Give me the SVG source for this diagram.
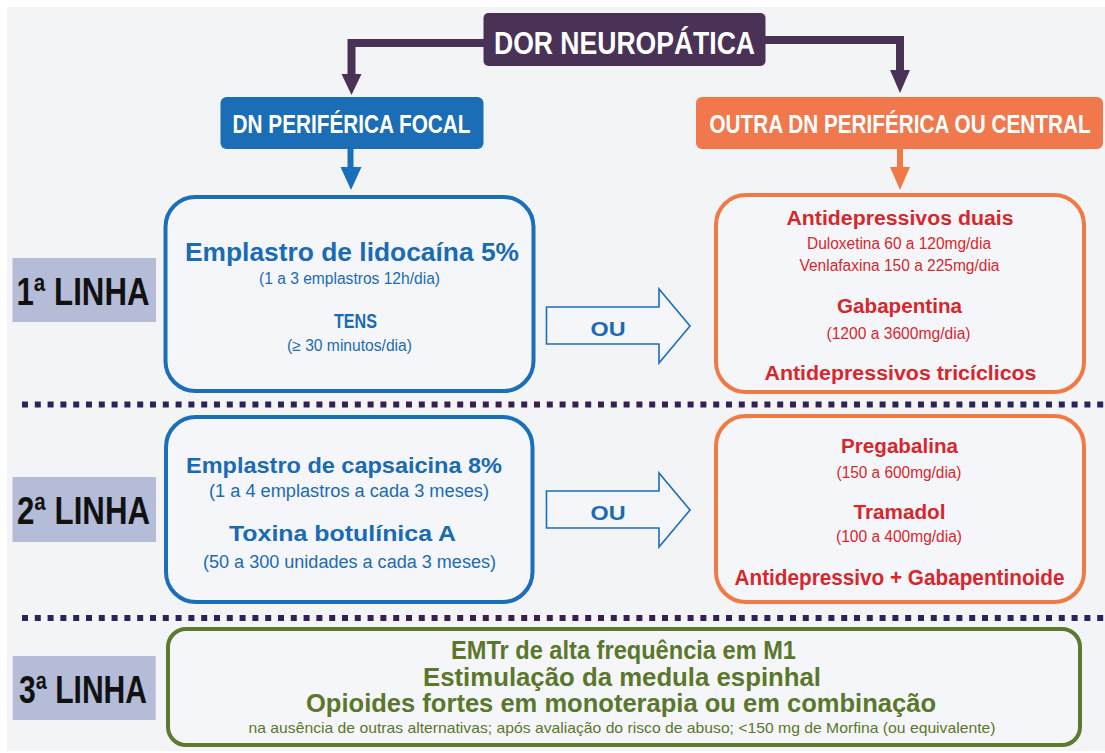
<svg xmlns="http://www.w3.org/2000/svg" width="1105" height="753" viewBox="0 0 1105 753">
<style>
text{font-family:"Liberation Sans",Arial,sans-serif;text-anchor:middle}
.b{font-weight:bold}
.hdr{fill:#fff;font-weight:bold}
.blue{fill:#1a6bb5}
.red{fill:#d8262c}
.green{fill:#5b772b;font-weight:bold}
.lbl{fill:#111;font-weight:bold;font-size:38px}
.lblbox{fill:#b4bcd8}
.boxB{fill:#f5f6f9;stroke:#1a6fba;stroke-width:4}
.boxO{fill:#f5f6f9;stroke:#f07a45;stroke-width:4}
.boxG{fill:#f5f6f9;stroke:#5e7a2e;stroke-width:4}
.ou{fill:#f5f6f9;stroke:#1a6fba;stroke-width:1.6}
.dots{fill:none;stroke:url(#dg);stroke-width:6;stroke-dasharray:6 6.8}
</style>
<defs>
<linearGradient id="dg" x1="0" y1="0" x2="1105" y2="0" gradientUnits="userSpaceOnUse">
<stop offset="0" stop-color="#25265e"/>
<stop offset="0.45" stop-color="#3e1c4e"/>
<stop offset="1" stop-color="#25265e"/>
</linearGradient>
</defs>
<rect x="0" y="0" width="1105" height="753" fill="#ffffff"/>
<rect x="7" y="7" width="1098" height="744" fill="#f3f4f6"/>

<g id="connectors">
<polyline points="484,43 351.5,43 351.5,76" fill="none" stroke="#4a3257" stroke-width="8"/>
<polygon points="341.5,74 361.5,74 351.5,95" fill="#4a3257"/>
<polyline points="765,40 900,40 900,72" fill="none" stroke="#4a3257" stroke-width="8"/>
<polygon points="890,70 910,70 900,93" fill="#4a3257"/>
<line x1="350.5" y1="149" x2="350.5" y2="169" stroke="#1a6fba" stroke-width="6"/>
<polygon points="340.5,167 361.5,167 351,190" fill="#1a6fba"/>
<line x1="900" y1="149" x2="900" y2="169" stroke="#f07a45" stroke-width="6"/>
<polygon points="890,167 910,167 900,190" fill="#f07a45"/>
<polygon class="ou" points="546.5,307 659,307 659,289 690,326 659,363 659,344 546.5,344"/>
<polygon class="ou" points="546.5,491 659,491 659,473 690,510 659,547 659,528 546.5,528"/>
<text class="blue b" x="608" y="336" font-size="21" textLength="35" lengthAdjust="spacingAndGlyphs">OU</text>
<text class="blue b" x="608" y="520" font-size="21" textLength="35" lengthAdjust="spacingAndGlyphs">OU</text>
<line class="dots" x1="22" y1="404.5" x2="1105" y2="404.5"/>
<line class="dots" x1="22" y1="618" x2="1105" y2="618"/>
</g>

<g id="dor">
<rect x="483.5" y="13" width="282" height="53" rx="5" fill="#4a3257"/>
<text class="hdr" transform="translate(624.5,54) scale(0.83,1)" x="0" y="0" font-size="32">DOR NEUROPÁTICA</text>
</g>
<g id="focal">
<rect x="220.5" y="97" width="263" height="52" rx="6" fill="#1b6db5"/>
<text class="hdr" transform="translate(351.5,133) scale(0.83,1)" x="0" y="0" font-size="25">DN PERIFÉRICA FOCAL</text>
</g>
<g id="outra">
<rect x="696" y="97" width="407" height="52" rx="6" fill="#f0784c"/>
<text class="hdr" transform="translate(900,133) scale(0.83,1)" x="0" y="0" font-size="25">OUTRA DN PERIFÉRICA OU CENTRAL</text>
</g>

<g id="label1">
<rect class="lblbox" x="12.5" y="258" width="143.5" height="64"/>
<text class="lbl" x="83" y="305" textLength="133" lengthAdjust="spacingAndGlyphs">1ª LINHA</text>
</g>
<g id="label2">
<rect class="lblbox" x="12.5" y="477" width="143.5" height="65"/>
<text class="lbl" x="83.5" y="524" textLength="133" lengthAdjust="spacingAndGlyphs">2ª LINHA</text>
</g>
<g id="label3">
<rect class="lblbox" x="12.7" y="656" width="143" height="64"/>
<text class="lbl" x="83" y="703" textLength="128" lengthAdjust="spacingAndGlyphs">3ª LINHA</text>
</g>

<g id="linha1-focal">
<rect class="boxB" x="165.5" y="197" width="368" height="194" rx="30"/>
<text class="blue b" x="352" y="261" font-size="25" textLength="334" lengthAdjust="spacingAndGlyphs">Emplastro de lidocaína 5%</text>
<text class="blue" x="349.5" y="284" font-size="16" textLength="181" lengthAdjust="spacingAndGlyphs">(1 a 3 emplastros 12h/dia)</text>
<text class="blue b" x="355.5" y="328" font-size="21" textLength="43" lengthAdjust="spacingAndGlyphs">TENS</text>
<text class="blue" x="349.5" y="351" font-size="16" textLength="125" lengthAdjust="spacingAndGlyphs">(≥ 30 minutos/dia)</text>
</g>
<g id="linha1-outra">
<rect class="boxO" x="716" y="195" width="368" height="197" rx="30"/>
<text class="red b" x="900" y="225" font-size="20" textLength="227" lengthAdjust="spacingAndGlyphs">Antidepressivos duais</text>
<text class="red" x="899" y="249" font-size="16" textLength="184" lengthAdjust="spacingAndGlyphs">Duloxetina 60 a 120mg/dia</text>
<text class="red" x="899.5" y="271" font-size="16" textLength="200" lengthAdjust="spacingAndGlyphs">Venlafaxina 150 a 225mg/dia</text>
<text class="red b" x="899.5" y="313" font-size="21" textLength="125" lengthAdjust="spacingAndGlyphs">Gabapentina</text>
<text class="red" x="898.5" y="339" font-size="16" textLength="144" lengthAdjust="spacingAndGlyphs">(1200 a 3600mg/dia)</text>
<text class="red b" x="900.5" y="380" font-size="20" textLength="272" lengthAdjust="spacingAndGlyphs">Antidepressivos tricíclicos</text>
</g>

<g id="linha2-focal">
<rect class="boxB" x="166" y="417" width="366.5" height="185" rx="30"/>
<text class="blue b" x="344" y="473" font-size="22" textLength="316" lengthAdjust="spacingAndGlyphs">Emplastro de capsaicina 8%</text>
<text class="blue" x="349" y="497" font-size="18" textLength="280" lengthAdjust="spacingAndGlyphs">(1 a 4 emplastros a cada 3 meses)</text>
<text class="blue b" x="342.5" y="541" font-size="22" textLength="227" lengthAdjust="spacingAndGlyphs">Toxina botulínica A</text>
<text class="blue" x="349.5" y="568" font-size="18" textLength="293" lengthAdjust="spacingAndGlyphs">(50 a 300 unidades a cada 3 meses)</text>
</g>
<g id="linha2-outra">
<rect class="boxO" x="716" y="416" width="368" height="186" rx="30"/>
<text class="red b" x="899.5" y="453" font-size="21" textLength="117" lengthAdjust="spacingAndGlyphs">Pregabalina</text>
<text class="red" x="899" y="478" font-size="16" textLength="125" lengthAdjust="spacingAndGlyphs">(150 a 600mg/dia)</text>
<text class="red b" x="899.5" y="519" font-size="21" textLength="92" lengthAdjust="spacingAndGlyphs">Tramadol</text>
<text class="red" x="899" y="542" font-size="16" textLength="126" lengthAdjust="spacingAndGlyphs">(100 a 400mg/dia)</text>
<text class="red b" x="899.5" y="585" font-size="22" textLength="330" lengthAdjust="spacingAndGlyphs">Antidepressivo + Gabapentinoide</text>
</g>

<g id="linha3">
<rect class="boxG" x="168" y="629" width="912" height="116" rx="18"/>
<text class="green" x="623.5" y="659" font-size="25" textLength="345" lengthAdjust="spacingAndGlyphs">EMTr de alta frequência em M1</text>
<text class="green" x="622" y="686" font-size="25" textLength="398" lengthAdjust="spacingAndGlyphs">Estimulação da medula espinhal</text>
<text class="green" x="621" y="712" font-size="25" textLength="630" lengthAdjust="spacingAndGlyphs">Opioides fortes em monoterapia ou em combinação</text>
<text x="622" y="733" font-size="15" fill="#5b772b" textLength="747" lengthAdjust="spacingAndGlyphs">na ausência de outras alternativas; após avaliação do risco de abuso; &lt;150 mg de Morfina (ou equivalente)</text>
</g>
</svg>
